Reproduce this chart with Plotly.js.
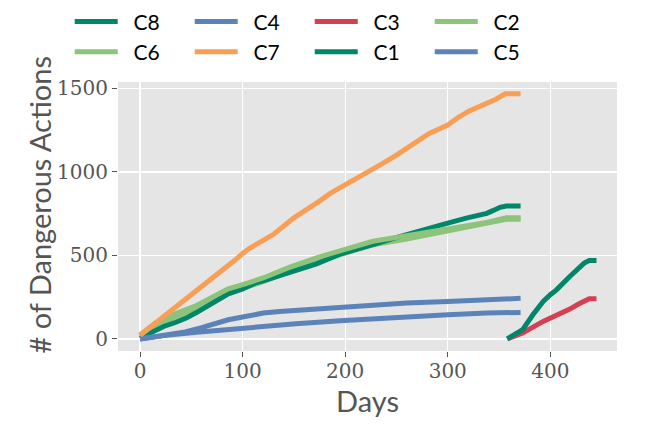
<!DOCTYPE html>
<html>
<head>
<meta charset="utf-8">
<script src="https://cdn.plot.ly/plotly-3.0.1.min.js"></script>
<style>
  html, body { margin: 0; padding: 0; background: #fff; }
  #chart { width: 664px; height: 443px; }
</style>
</head>
<body>
<div id="chart"></div>
<script>
// series names, in legend order (row by row)
var names = ['C8', 'C4', 'C3', 'C2', 'C6', 'C7', 'C1', 'C5'];

// C7 - orange, steepest
var c7Days = [0, 10, 20, 28, 40, 50, 60, 75, 93, 100, 106, 115, 130, 150, 165, 175, 185, 200, 217, 235, 250, 265, 282, 300, 310, 321, 335, 347, 356, 371];
var c7Vals = [22, 70, 118, 155, 215, 263, 314, 390, 474, 512, 540, 572, 625, 725, 780, 825, 870, 920, 980, 1045, 1100, 1160, 1230, 1280, 1325, 1365, 1400, 1435, 1467, 1467];

// C8 - dark green, first year
var c8Days = [0, 10, 23, 35, 45, 55, 65, 75, 86, 100, 112, 120, 143, 156, 172, 195, 204, 227, 253, 260, 280, 300, 318, 330, 338, 344, 351, 357, 371];
var c8Vals = [5, 35, 75, 100, 125, 158, 195, 225, 270, 300, 334, 348, 392, 418, 450, 508, 526, 565, 612, 623, 655, 693, 723, 738, 752, 768, 788, 796, 796];

// C2 / C6 - light green, almost on top of each other
var c2Days = [0, 16, 28, 33, 55, 71, 86, 100, 112, 120, 146, 172, 204, 227, 260, 300, 318, 338, 357, 371];
var c2Vals = [18, 80, 108, 128, 180, 228, 280, 303, 327, 343, 405, 462, 522, 563, 598, 645, 670, 688, 716, 716];
var c6Days = [0, 16, 28, 33, 55, 71, 86, 100, 112, 120, 146, 172, 204, 227, 260, 300, 318, 338, 357, 371];
var c6Vals = [24, 100, 128, 148, 200, 248, 300, 325, 349, 365, 430, 486, 544, 585, 618, 660, 682, 698, 726, 726];

// C4 / C5 - blue, slow
var c4Days = [0, 23, 44, 60, 72, 86, 100, 112, 120, 136, 172, 195, 227, 260, 300, 338, 357, 371];
var c4Vals = [0, 24, 42, 68, 90, 115, 131, 145, 155, 165, 179, 191, 205, 215, 225, 235, 243, 243];
var c5Days = [0, 23, 55, 100, 112, 152, 195, 227, 260, 300, 338, 371];
var c5Vals = [0, 20, 40, 66, 72, 91, 109, 121, 131, 145, 155, 159];

// C1 / C3 - second period
var c1Days = [358, 373, 383, 393, 400, 406, 419, 433, 438, 445];
var c1Vals = [0, 56, 145, 225, 265, 294, 374, 454, 470, 470];
var c3Days = [358, 373, 393, 406, 419, 428, 438, 445];
var c3Vals = [0, 36, 105, 139, 179, 211, 241, 241];

var xTicks = [0, 100, 200, 300, 400];
var yTicks = [0, 500, 1000, 1500];

var dark = '#00876a', blue = '#5b83ba', red = '#d63f52', light = '#8bc47a', orange = '#f99e55';

var pad = '\u00a0\u00a0';   // a bit more room between legend line and label

function line(name, x, y, color) {
  return {
    x: x, y: y, name: pad + name, mode: 'lines',
    legendrank: names.indexOf(name) + 1,
    line: {color: color, width: 5}, hoverinfo: 'skip'
  };
}

// draw order: lower light green, dark green, upper light green on top
var data = [
  line('C2', c2Days, c2Vals, light),
  line('C8', c8Days, c8Vals, dark),
  line('C6', c6Days, c6Vals, light),
  line('C4', c4Days, c4Vals, blue),
  line('C5', c5Days, c5Vals, blue),
  line('C7', c7Days, c7Vals, orange),
  line('C3', c3Days, c3Vals, red),
  line('C1', c1Days, c1Vals, dark)
];

var tickFont = {family: 'DejaVu Serif', size: 20, color: '#555'};

var layout = {
  width: 664, height: 443,
  margin: {l: 118, r: 47, t: 82, b: 92, autoexpand: false},
  paper_bgcolor: '#fff',
  plot_bgcolor: '#e5e5e5',
  showlegend: true,
  legend: {
    orientation: 'h', xref: 'container', yref: 'container',
    x: 0.105, y: 0.997, xanchor: 'left', yanchor: 'top',
    entrywidth: 62, entrywidthmode: 'pixels',
    itemwidth: 43,
    font: {family: 'Lato', size: 21, color: '#000'},
    traceorder: 'normal', bgcolor: 'rgba(0,0,0,0)'
  },
  xaxis: {
    range: [-21.5, 465], tickvals: xTicks,
    showgrid: true, gridcolor: '#fff', gridwidth: 1.3, zeroline: false,
    ticks: 'outside', ticklen: 5, tickcolor: '#555', tickwidth: 1,
    tickfont: tickFont, ticklabelstandoff: -3,
    title: {text: 'Days', font: {family: 'Lato', size: 29, color: '#555'}, standoff: 0}
  },
  yaxis: {
    range: [-72, 1538], tickvals: yTicks,
    showgrid: true, gridcolor: '#fff', gridwidth: 1.3, zeroline: false,
    ticks: 'outside', ticklen: 5, tickcolor: '#555', tickwidth: 1,
    tickfont: tickFont
  },
  annotations: [{
    text: '# of Dangerous Actions', textangle: -90,
    xref: 'paper', yref: 'paper', x: -0.157, y: 0.543,
    xanchor: 'center', yanchor: 'middle', showarrow: false,
    font: {family: 'Lato', size: 29, color: '#555'}
  }]
};

Plotly.newPlot('chart', data, layout, {staticPlot: true});
</script>
</body>
</html>
